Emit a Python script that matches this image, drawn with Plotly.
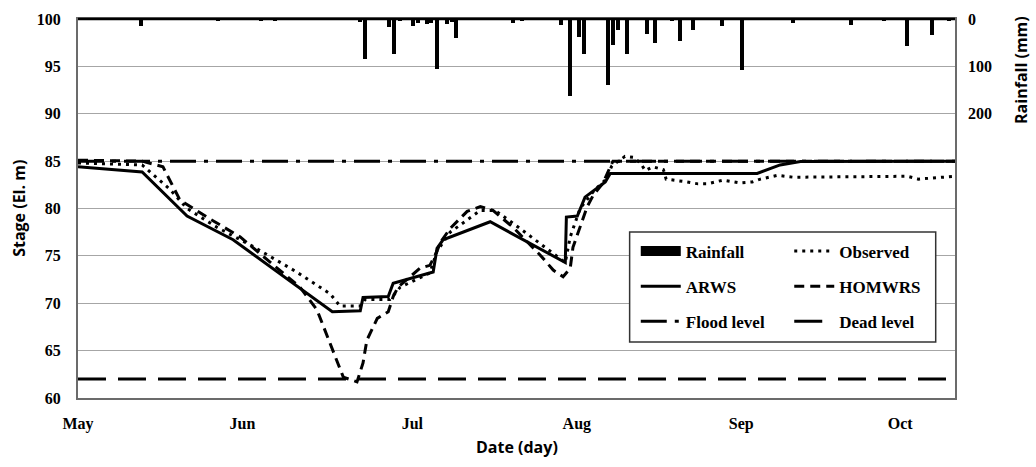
import plotly.graph_objects as go

# ---------------- data ----------------
# x values are days counted from 1 May
month_ticks = [0, 30, 61, 91, 121, 150]
month_labels = ["May", "Jun", "Jul", "Aug", "Sep", "Oct"]

rain_day = [11.5, 25.5, 33.4, 36, 51.5, 52.4, 55.1, 56.8, 57.7, 58.8, 61.1, 62, 63.7, 64.4,
            65.5, 67.3, 68.2, 69, 79.4, 81, 88.1, 89.8, 91.4, 92.3, 94, 95.3, 96.7, 97.6,
            98.5, 100.2, 103.8, 105.3, 108.4, 109.9, 112.2, 117.5, 121.2, 130.5, 141, 147,
            151.3, 155.8, 158.9]
rain_mm = [15, 4, 5, 3, 6, 84, 2, 17, 73, 3, 15, 8, 10, 8,
           105, 10, 6, 40, 8, 3, 13, 162, 38, 73, 2, 2, 140, 54,
           23, 73, 31, 51, 3, 47, 23, 15, 108, 8, 13, 3,
           57, 33, 5]

arws_day = [0, 11.7, 19.9, 28.3, 46.4, 51.5, 52.0, 56.6, 57.5, 64.8, 65.5, 66.6, 75.2, 85.6,
            88.9, 89.1, 91.1, 92.5, 96.2, 97.1, 123.9, 128.1, 131.8, 160]
arws_stage = [84.4, 83.85, 79.2, 76.7, 69.1, 69.2, 70.6, 70.7, 72.1, 73.3, 75.8, 76.7, 78.6, 75.3,
              74.3, 79.1, 79.2, 81.2, 82.8, 83.7, 83.7, 84.6, 84.95, 85.0]

obs_day = [0, 11.7, 16.8, 19.9, 25.4, 31.9, 39.6, 46.0, 47.8, 51.5, 52.4, 56.9, 58.8, 64.2,
           65.5, 67.9, 73.4, 76.1, 79.7, 84.9, 87.4, 88.9, 89.8, 91.6, 94.3, 96.2, 97.4,
           99.8, 101.3, 102.6, 103.5, 104.9, 106.8, 107.3, 111.1, 113.1, 114.8, 117.7,
           120.8, 123.0, 124.5, 127.6, 130.5, 151.3, 153.3, 155.1, 160.0]
obs_stage = [84.8, 84.6, 82.0, 80.0, 78.0, 76.0, 73.4, 71.0, 69.7, 69.7, 70.4, 70.4, 71.7, 73.2,
             75.5, 77.5, 79.8, 79.8, 78.3, 76.0, 74.9, 74.3, 77.0, 80.0, 82.0, 83.0, 84.5,
             85.5, 85.4, 84.8, 84.0, 84.4, 84.1, 83.1, 82.8, 82.6, 82.6, 83.0,
             82.7, 82.8, 83.1, 83.5, 83.3, 83.4, 83.1, 83.2, 83.4]

hom_day = [0, 11.7, 15.5, 18.6, 23.5, 29.6, 34.5, 40.5, 43.6, 46.5, 48.4, 50.9, 52.0, 52.7,
           54.6, 56.6, 57.5, 58.4, 62.4, 64.2, 65.5, 66.1, 67.9, 71.0, 73.4, 75.7, 79.4,
           84.3, 86.7, 88.5, 89.8, 90.3, 91.6, 92.9, 94.0, 95.8, 97.1, 97.6, 160]
hom_stage = [85.1, 85.0, 84.4, 80.9, 79.1, 77.0, 74.6, 71.7, 69.3, 65.1, 62.2, 61.7, 63.7, 66.1,
             68.4, 69.1, 70.7, 71.7, 73.7, 74.0, 75.5, 76.4, 77.9, 79.7, 80.2, 79.8, 78.0,
             75.1, 73.5, 72.8, 73.7, 75.9, 78.0, 80.2, 81.4, 82.7, 84.4, 85.0, 85.0]

level_day = [0, 160]
flood_level = [85, 85]
dead_level = [62, 62]

stage_ticks = [60, 65, 70, 75, 80, 85, 90, 95, 100]
rain_ticks = [0, 100, 200]

# ---------------- figure ----------------
SERIF = "'Liberation Serif', 'Times New Roman', 'DejaVu Serif', serif"
SANS = "'Open Sans', 'Noto Sans', sans-serif"
LW = 3

fig = go.Figure()

# Rainfall bars (secondary, reversed axis)
fig.add_trace(go.Bar(x=rain_day, y=rain_mm, yaxis="y2", marker=dict(color="black", line=dict(width=0)),
                     width=0.7, showlegend=False, name="Rainfall"))

fig.add_trace(go.Scatter(x=level_day, y=flood_level, mode="lines", name="Flood level",
                         line=dict(color="black", width=LW, dash="26px,8px,4px,8px"),
                         legend="legend", legendgroup="g3", legendrank=3))
fig.add_trace(go.Scatter(x=level_day, y=dead_level, mode="lines", name="Dead level",
                         line=dict(color="black", width=LW, dash="28px,12px"),
                         legend="legend2", legendgroup="g6", legendrank=6))
fig.add_trace(go.Scatter(x=obs_day, y=obs_stage, mode="lines", name="Observed",
                         line=dict(color="black", width=LW, dash="3px,5px"),
                         legend="legend2", legendgroup="g4", legendrank=4))
fig.add_trace(go.Scatter(x=hom_day, y=hom_stage, mode="lines", name="HOMWRS",
                         line=dict(color="black", width=LW, dash="10px,6px"),
                         legend="legend2", legendgroup="g5", legendrank=5))
fig.add_trace(go.Scatter(x=arws_day, y=arws_stage, mode="lines", name="ARWS",
                         line=dict(color="black", width=LW),
                         legend="legend", legendgroup="g2", legendrank=2))
# legend-only sample for rainfall (thick bar look)
fig.add_trace(go.Scatter(x=[None], y=[None], mode="lines", name="Rainfall",
                         line=dict(color="black", width=11),
                         legend="legend", legendgroup="g1", legendrank=1))

legend_font = dict(family=SERIF, size=17, color="black", weight="bold")
common_leg = dict(bgcolor="rgba(0,0,0,0)", borderwidth=0, font=legend_font,
                  traceorder="grouped", tracegroupgap=10, itemwidth=40,
                  xanchor="left", yanchor="top", y=0.434)

tick_font = dict(family=SERIF, size=16, color="black", weight="bold")
title_font = dict(family=SANS, size=16, color="black", weight="bold")

fig.update_layout(
    width=1036, height=467,
    margin=dict(l=78, r=81, t=19, b=69),
    paper_bgcolor="white", plot_bgcolor="white",
    bargap=0,
    xaxis=dict(range=[0, 160], tickvals=month_ticks, ticktext=month_labels,
               showgrid=False, zeroline=False, showline=True, linecolor="#6b6b6b",
               linewidth=2, mirror=True, ticks="", ticklabelstandoff=10, tickfont=tick_font),
    yaxis=dict(range=[60, 100], tickvals=stage_ticks, showgrid=True, gridcolor="#a6a6a6",
               gridwidth=1, zeroline=False, showline=True, linecolor="#6b6b6b", linewidth=2,
               mirror=True, ticks="", ticklabelstandoff=12, tickfont=tick_font),
    yaxis2=dict(range=[800, 0], tickvals=rain_ticks, overlaying="y", side="right",
                showgrid=False, zeroline=False, showline=False, ticks="", ticklabelstandoff=12,
                tickfont=tick_font),
    legend=dict(x=0.636, **common_leg),
    legend2=dict(x=0.811, **common_leg),
    shapes=[
        dict(type="rect", xref="paper", yref="paper", x0=0.629, x1=0.978, y0=0.148, y1=0.438,
             line=dict(color="#333333", width=1.5), fillcolor="white", layer="above"),
        dict(type="line", xref="paper", yref="paper", x0=0, x1=1, y0=1, y1=1,
             line=dict(color="black", width=2.5), layer="above"),
    ],
    annotations=[
        dict(text="Stage (El. m)", xref="paper", yref="paper", x=-0.068, y=0.5, textangle=-90,
             showarrow=False, font=title_font, xanchor="center", yanchor="middle"),
        dict(text="Date (day)", xref="paper", yref="paper", x=0.5, y=-0.129, showarrow=False,
             font=title_font, xanchor="center", yanchor="middle"),
        dict(text="Rainfall (mm)", xref="paper", yref="paper", x=1.075, y=0.865, textangle=-90,
             showarrow=False, font=title_font, xanchor="center", yanchor="middle"),
    ],
)

fig.write_html("out.html")
